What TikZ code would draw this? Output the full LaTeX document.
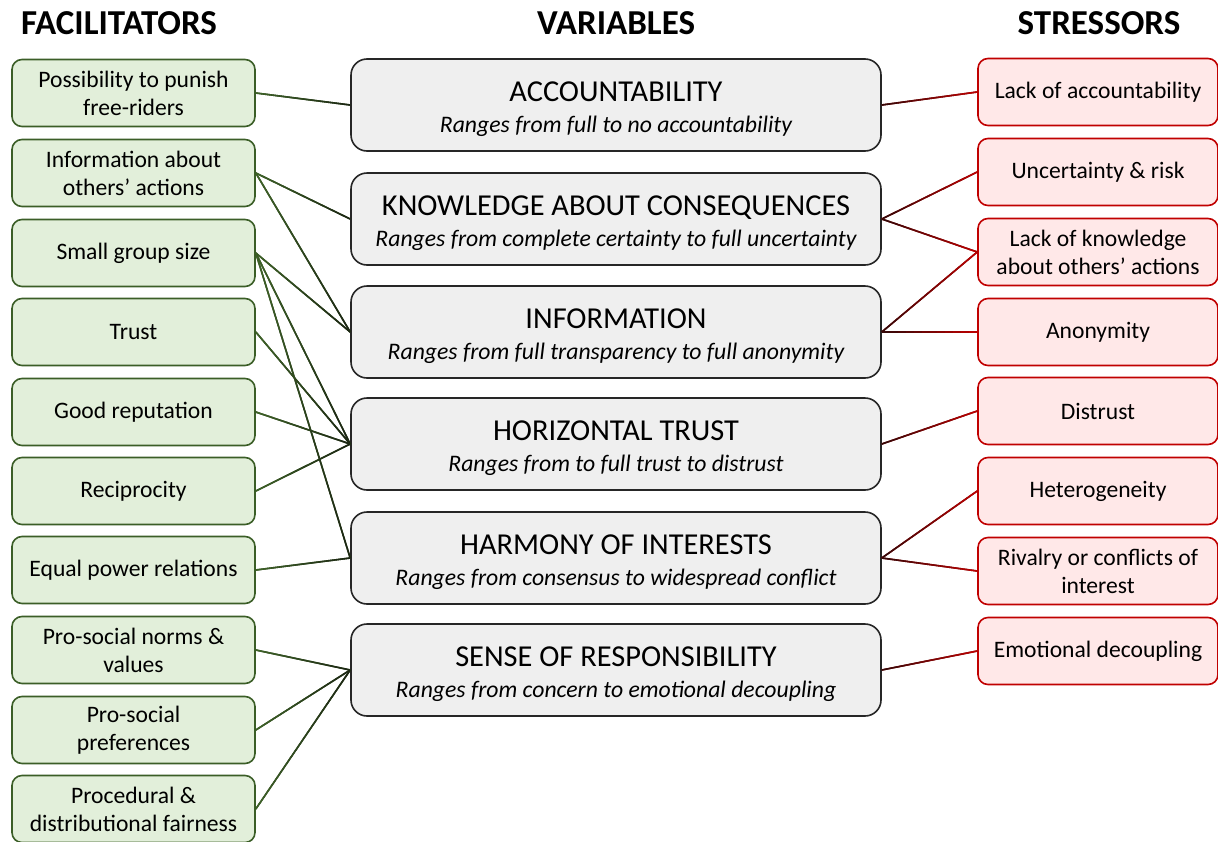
\documentclass[tikz,border=0pt]{standalone}
\usepackage{fontspec}
\setmainfont{Carlito}
\usetikzlibrary{calc}
\definecolor{gfill}{HTML}{E2EFDA}
\definecolor{gdraw}{HTML}{3B5E27}
\definecolor{glinec}{HTML}{3F6428}
\definecolor{gdark}{HTML}{1A2412}
\definecolor{rfill}{HTML}{FFE8E8}
\definecolor{rdraw}{HTML}{C00000}
\definecolor{rdark}{HTML}{300808}
\definecolor{vfill}{HTML}{EFEFEF}
\tikzset{
  fac/.style={draw=gdraw, fill=gfill, line width=1.6pt, rounded corners=10pt,
    minimum width=243pt, minimum height=67pt, text width=240pt, align=flush center,
    font=\fontsize{23.6}{28}\selectfont, inner sep=0pt},
  var/.style={draw=black!85, fill=vfill, line width=1.6pt, rounded corners=16pt,
    minimum width=530pt, minimum height=92pt, inner sep=0pt},
  vtitle/.style={anchor=base, inner sep=0pt, font=\fontsize{30.4}{36}\selectfont},
  vsub/.style={anchor=base, inner sep=0pt, font=\fontsize{23.7}{30}\selectfont\itshape},
  strs/.style={draw=rdraw, fill=rfill, line width=1.6pt, rounded corners=10pt,
    minimum width=240pt, minimum height=67pt, text width=238pt, align=flush center,
    font=\fontsize{23.6}{28}\selectfont, inner sep=0pt},
  ttl/.style={font=\bfseries\fontsize{35}{40}\selectfont},
  conn/.style={line width=1.6pt, line cap=butt},
}
\newcommand\varbox[4]{%
  \node[var] (#1) at (616,#2) {};
  \node[vtitle] (#1t) at ($(#1.center)+(0,-4)$) {#3};
  \node[vsub] (#1s) at ($(#1.center)+(0,27)$) {#4};
}
\newcommand\gradconn[4]{%
  \draw[conn, #4!50!#3] (#1) -- (#2);
  \foreach \k in {0,...,11}{%
    \pgfmathsetmacro\ta{\k/12}%
    \pgfmathsetmacro\tb{(\k+1)/12}%
    \pgfmathtruncatemacro\pc{100*(\k+0.5)/12}%
    \draw[conn, #4!\pc!#3] ($(#1)!\ta!(#2)$) -- ($(#1)!\tb!(#2)$);
  }%
}
\begin{document}
\begin{tikzpicture}[x=1pt, y=-1pt]
\useasboundingbox (0,0) rectangle (1218,841);
% titles
\node[ttl] (tf) at (119,23) {FACILITATORS};
\node[ttl] (tv) at (616,23) {VARIABLES};
\node[ttl] (ts) at (1099,23) {STRESSORS};
% facilitators
\node[fac] (f1) at (133.5,93) {Possibility to punish\\free-riders};
\node[fac] (f2) at (133.5,173) {Information about\\others’ actions};
\node[fac] (f3) at (133.5,253) {Small group size};
\node[fac] (f4) at (133.5,332) {Trust};
\node[fac] (f5) at (133.5,412) {Good reputation};
\node[fac] (f6) at (133.5,491) {Reciprocity};
\node[fac] (f7) at (133.5,570) {Equal power relations};
\node[fac] (f8) at (133.5,650) {Pro-social norms \&\\values};
\node[fac] (f9) at (133.5,730) {Pro-social\\preferences};
\node[fac] (f10) at (133.5,809) {Procedural \&\\distributional fairness};
% variables
\varbox{v1}{105}{ACCOUNTABILITY}{Ranges from full to no accountability}
\varbox{v2}{219}{KNOWLEDGE ABOUT CONSEQUENCES}{Ranges from complete certainty to full uncertainty}
\varbox{v3}{332}{INFORMATION}{Ranges from full transparency to full anonymity}
\varbox{v4}{444}{HORIZONTAL TRUST}{Ranges from to full trust to distrust}
\varbox{v5}{558}{HARMONY OF INTERESTS}{Ranges from consensus to widespread conflict}
\varbox{v6}{670}{SENSE OF RESPONSIBILITY}{Ranges from concern to emotional decoupling}
% stressors
\node[strs] (s1) at (1098,92) {Lack of accountability};
\node[strs] (s2) at (1098,172) {Uncertainty \& risk};
\node[strs] (s3) at (1098,252) {Lack of knowledge\\about others’ actions};
\node[strs] (s4) at (1098,332) {Anonymity};
\node[strs] (s5) at (1098,411) {Distrust};
\node[strs] (s6) at (1098,491) {Heterogeneity};
\node[strs] (s7) at (1098,571) {Rivalry or conflicts of\\interest};
\node[strs] (s8) at (1098,651) {Emotional decoupling};
% left connectors
\gradconn{f1.east}{v1.west}{glinec}{gdark}
\gradconn{f2.east}{v2.west}{glinec}{gdark}
\gradconn{f2.east}{v3.west}{glinec}{gdark}
\gradconn{f3.east}{v3.west}{glinec}{gdark}
\gradconn{f3.east}{v4.west}{glinec}{gdark}
\gradconn{f3.east}{v5.west}{glinec}{gdark}
\gradconn{f4.east}{v4.west}{glinec}{gdark}
\gradconn{f5.east}{v4.west}{glinec}{gdark}
\gradconn{f6.east}{v4.west}{glinec}{gdark}
\gradconn{f7.east}{v5.west}{glinec}{gdark}
\gradconn{f8.east}{v6.west}{glinec}{gdark}
\gradconn{f9.east}{v6.west}{glinec}{gdark}
\gradconn{f10.east}{v6.west}{glinec}{gdark}
% right connectors
\gradconn{v1.east}{s1.west}{rdark}{rdraw}
\gradconn{v2.east}{s2.west}{rdark}{rdraw}
\gradconn{v2.east}{s3.west}{rdark}{rdraw}
\gradconn{v3.east}{s3.west}{rdark}{rdraw}
\gradconn{v3.east}{s4.west}{rdark}{rdraw}
\gradconn{v4.east}{s5.west}{rdark}{rdraw}
\gradconn{v5.east}{s6.west}{rdark}{rdraw}
\gradconn{v5.east}{s7.west}{rdark}{rdraw}
\gradconn{v6.east}{s8.west}{rdark}{rdraw}
\end{tikzpicture}
\end{document}
